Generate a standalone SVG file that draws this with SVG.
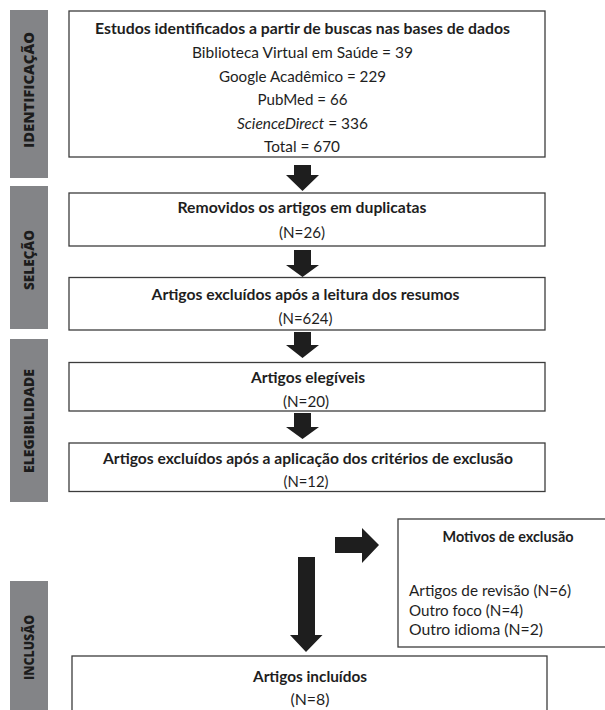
<svg xmlns="http://www.w3.org/2000/svg" width="605" height="710" viewBox="0 0 605 710">
<style>
.bar{fill:#838487}
.lbl{font-family:"Open Sans","DejaVu Sans",sans-serif;font-weight:800;font-size:14px;fill:#1c1c1c;text-anchor:middle}
.box{fill:#fff;stroke:#3c3c3c;stroke-width:1.3}
.t{font-family:Lato,"Liberation Sans",sans-serif;font-size:15px;fill:#1e1e1e;text-anchor:middle}
.b{font-weight:bold}
.l{text-anchor:start}
.arr{fill:#1e1e1e}
</style>
<rect width="605" height="710" fill="#fff"/>
<g id="stages">
<rect class="bar" x="10" y="10" width="38" height="168"/>
<text class="lbl" transform="translate(34,90) rotate(-90)" textLength="116" lengthAdjust="spacingAndGlyphs">IDENTIFICAÇÃO</text>
<rect class="bar" x="10" y="186" width="38" height="143"/>
<text class="lbl" transform="translate(34,260) rotate(-90)" textLength="60" lengthAdjust="spacingAndGlyphs">SELEÇÃO</text>
<rect class="bar" x="10" y="339" width="38" height="163"/>
<text class="lbl" transform="translate(34,421) rotate(-90)" textLength="104" lengthAdjust="spacingAndGlyphs">ELEGIBILIDADE</text>
<rect class="bar" x="10" y="581" width="38" height="135"/>
<text class="lbl" transform="translate(34,647.5) rotate(-90)" textLength="65" lengthAdjust="spacingAndGlyphs">INCLUSÃO</text>
</g>
<g id="connectors">
<polygon class="arr" points="294,165 311,165 311,175 319,175 302.5,191 286,175 294,175"/>
<polygon class="arr" points="294,250 311,250 311,265 319,265 302.5,277 286,265 294,265"/>
<polygon class="arr" points="294,332 311,332 311,345 319,345 302.5,358 286,345 294,345"/>
<polygon class="arr" points="294,413 311,413 311,427 319,427 302.5,439 286,427 294,427"/>
<polygon class="arr" points="298,557 315,557 315,635 322.5,635 306,652 290,635 298,635"/>
<polygon class="arr" points="335,537 362,537 362,528 379,545 362,563 362,553 335,553"/>
</g>
<g id="n1">
<rect class="box" x="69" y="11" width="476" height="146"/>
<text class="t b" x="302.5" y="33.5" textLength="415" lengthAdjust="spacingAndGlyphs">Estudos identificados a partir de buscas nas bases de dados</text>
<text class="t" x="302.5" y="58" textLength="221" lengthAdjust="spacingAndGlyphs">Biblioteca Virtual em Saúde = 39</text>
<text class="t" x="302.5" y="82" textLength="167" lengthAdjust="spacingAndGlyphs">Google Acadêmico = 229</text>
<text class="t" x="302.5" y="105" textLength="90" lengthAdjust="spacingAndGlyphs">PubMed = 66</text>
<text class="t" x="302.5" y="128.5" textLength="131" lengthAdjust="spacingAndGlyphs"><tspan font-style="italic">ScienceDirect</tspan> = 336</text>
<text class="t" x="302" y="152" textLength="76" lengthAdjust="spacingAndGlyphs">Total  = 670</text>
</g>
<g id="n2">
<rect class="box" x="69" y="193" width="476" height="53"/>
<text class="t b" x="302" y="213" textLength="249" lengthAdjust="spacingAndGlyphs">Removidos os artigos em duplicatas</text>
<text class="t" x="302" y="238" textLength="46" lengthAdjust="spacingAndGlyphs">(N=26)</text>
</g>
<g id="n3">
<rect class="box" x="69" y="277.5" width="476" height="52.5"/>
<text class="t b" x="305.5" y="299.5" textLength="308" lengthAdjust="spacingAndGlyphs">Artigos excluídos após a leitura dos resumos</text>
<text class="t" x="305.5" y="323.5" textLength="54" lengthAdjust="spacingAndGlyphs">(N=624)</text>
</g>
<g id="n4">
<rect class="box" x="69" y="362.5" width="476" height="48.5"/>
<text class="t b" x="308" y="383" textLength="114" lengthAdjust="spacingAndGlyphs">Artigos elegíveis</text>
<text class="t" x="306" y="407" textLength="46" lengthAdjust="spacingAndGlyphs">(N=20)</text>
</g>
<g id="n5">
<rect class="box" x="69" y="443" width="476" height="48.5"/>
<text class="t b" x="308" y="463.5" textLength="410" lengthAdjust="spacingAndGlyphs">Artigos excluídos após a aplicação dos critérios de exclusão</text>
<text class="t" x="306" y="487" textLength="45" lengthAdjust="spacingAndGlyphs">(N=12)</text>
</g>
<g id="n6">
<rect class="box" x="398" y="519" width="212" height="128"/>
<text class="t b" x="508" y="542" textLength="131" lengthAdjust="spacingAndGlyphs">Motivos de exclusão</text>
<text class="t l" x="409" y="596" textLength="162" lengthAdjust="spacingAndGlyphs">Artigos de revisão (N=6)</text>
<text class="t l" x="409" y="615.5" textLength="114" lengthAdjust="spacingAndGlyphs">Outro foco (N=4)</text>
<text class="t l" x="409" y="634.5" textLength="134" lengthAdjust="spacingAndGlyphs">Outro idioma (N=2)</text>
</g>
<g id="n7">
<rect class="box" x="72" y="656" width="475" height="70"/>
<text class="t b" x="310" y="682" textLength="114" lengthAdjust="spacingAndGlyphs">Artigos incluídos</text>
<text class="t" x="310" y="705" textLength="39" lengthAdjust="spacingAndGlyphs">(N=8)</text>
</g>
</svg>
